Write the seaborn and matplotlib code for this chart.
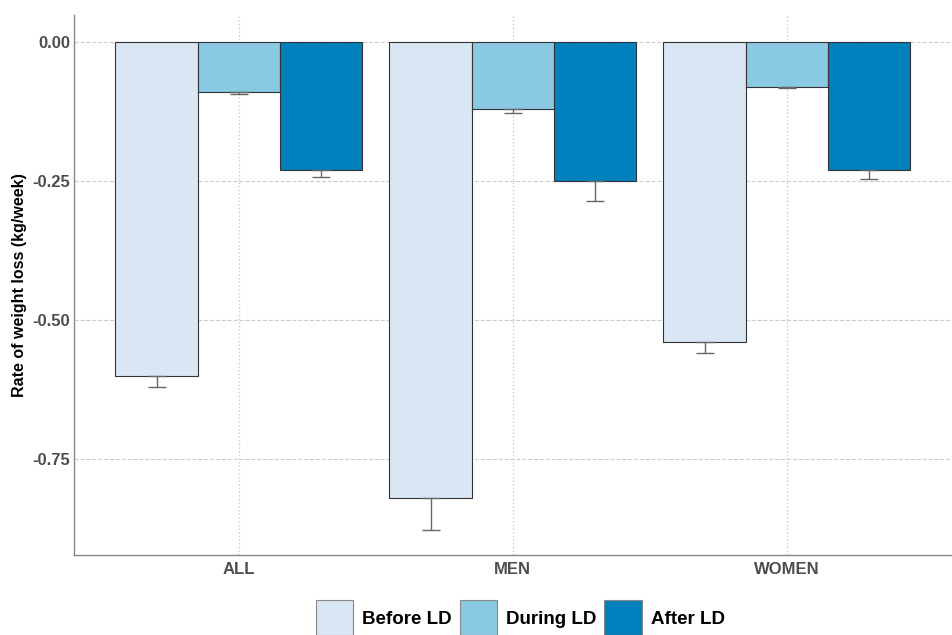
import matplotlib
matplotlib.use("Agg")
import matplotlib.pyplot as plt
import matplotlib.patches as mpatches
import seaborn as sns
import pandas as pd
import numpy as np

groups = ["ALL", "MEN", "WOMEN"]
periods = ["Before LD", "During LD", "After LD"]
before = [-0.60, -0.82, -0.54]
during = [-0.09, -0.12, -0.08]
after = [-0.23, -0.25, -0.23]
before_se = [0.020, 0.058, 0.020]
during_se = [0.003, 0.007, 0.002]
after_se = [0.013, 0.036, 0.016]
colors = ["#D9E7F4", "#89C9E1", "#0080BC"]
yticks = [0.0, -0.25, -0.5, -0.75]

df = pd.DataFrame({
    "group": groups * 3,
    "period": [p for p in periods for _ in groups],
    "rate": before + during + after,
    "se": before_se + during_se + after_se,
})

sns.set_style("white")
plt.rcParams["font.family"] = ["Liberation Sans", "DejaVu Sans"]
plt.rcParams["axes.unicode_minus"] = False

fig = plt.figure(figsize=(9.53, 6.35), dpi=100)
ax = fig.add_axes([0.078, 0.126, 0.92, 0.85])

sns.barplot(data=df, x="group", y="rate", hue="period", order=groups,
            hue_order=periods, palette=colors, saturation=1,
            edgecolor="#333333", linewidth=0.8, errorbar=None, width=0.9,
            gap=0, ax=ax, legend=False, zorder=3)

# one-sided error bars (downwards), like ggplot's geom_errorbar
for cont, p in zip(ax.containers, periods):
    sub = df[df["period"] == p].set_index("group").loc[groups]
    xs = [b.get_x() + b.get_width() / 2 for b in cont]
    ax.errorbar(xs, sub["rate"].values, yerr=[sub["se"].values, np.zeros(3)],
                fmt="none", ecolor="#666666", elinewidth=1, capsize=6.5,
                capthick=1, zorder=4)

ax.set_xlim(-0.6, 2.6)
ax.set_ylim(-0.923, 0.049)
ax.set_yticks(yticks)
ax.set_yticklabels([f"{t:.2f}" for t in yticks])
ax.grid(True, axis="y", color="#cccccc", linestyle="--", linewidth=0.8, zorder=0)
ax.grid(True, axis="x", color="#cccccc", linestyle=":", linewidth=1, zorder=0)
ax.set_axisbelow(True)

for s in ["top", "right"]:
    ax.spines[s].set_visible(False)
for s in ["left", "bottom"]:
    ax.spines[s].set_color("#888888")
    ax.spines[s].set_linewidth(1)

ax.tick_params(axis="both", length=0, pad=3)
ax.tick_params(axis="x", pad=5)
for lab in ax.get_xticklabels() + ax.get_yticklabels():
    lab.set_fontweight("bold")
    lab.set_color("#4d4d4d")
    lab.set_fontsize(12)

ax.set_xlabel("")
ax.set_ylabel("Rate of weight loss (kg/week)", fontsize=11.5, fontweight="bold",
              color="black", labelpad=4)

handles = [mpatches.Patch(facecolor=c, edgecolor="#888888", linewidth=0.8)
           for c in colors]
fig.legend(handles, periods, loc="center", bbox_to_anchor=(0.546, 0.027),
           ncol=3, frameon=False, prop={"weight": "bold", "size": 13.5},
           labelcolor="black", handlelength=2.0, handleheight=2.5,
           handletextpad=0.5, columnspacing=0.4)

fig.savefig("out.png", dpi=100)
